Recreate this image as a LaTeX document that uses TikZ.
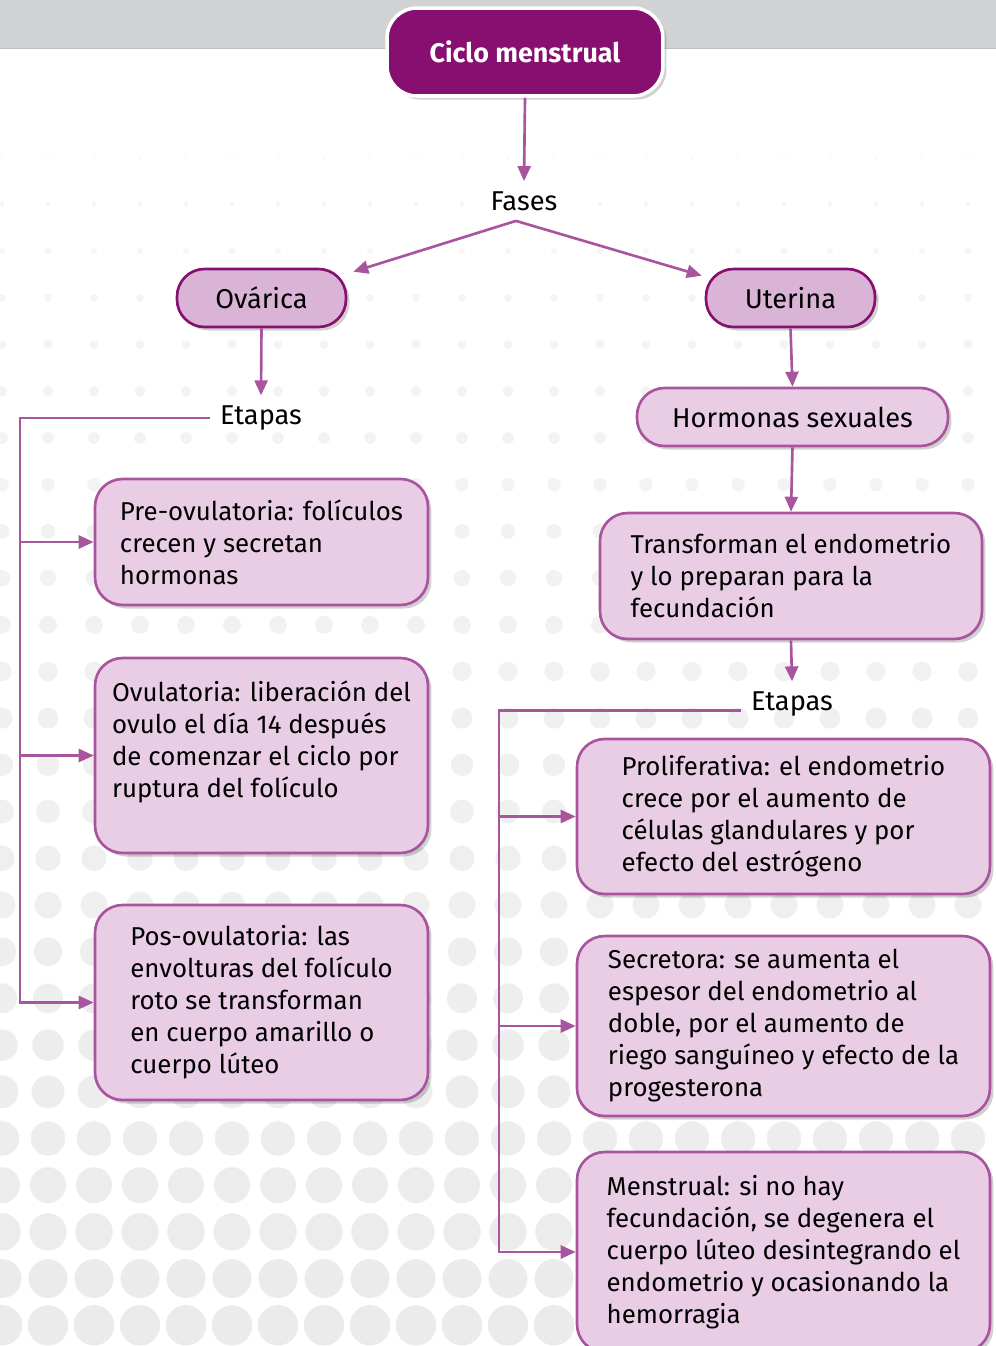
\documentclass[tikz,border=0pt]{standalone}
\usepackage{fontspec}
\setmainfont{Fira Sans}
\usetikzlibrary{arrows.meta, shadows}

\definecolor{darkpurple}{HTML}{870F6F}
\definecolor{linkpurple}{HTML}{A8559E}
\definecolor{midpink}{HTML}{DAB4D6}
\definecolor{lightpink}{HTML}{E8CDE4}
\definecolor{bandgray}{HTML}{D1D2D4}

\tikzset{
  line/.style={draw=linkpurple, line width=1.5pt},
  link/.style={line, -{Triangle[length=0.3cm, width=0.26cm]}},
  softshadow/.style={drop shadow={shadow xshift=2pt, shadow yshift=-2pt, opacity=0.18, fill=black}},
  labelfont/.style={font=\fontsize{15.5}{19}\selectfont},
  titlebox/.style={rounded corners=0.6cm, fill=darkpurple, draw=white, line width=2pt,
    text=white, font=\fontsize{15.3}{18}\selectfont\bfseries,
    minimum width=5.52cm, minimum height=1.76cm, softshadow},
  phasebox/.style={rounded corners=0.55cm, fill=midpink, draw=darkpurple, line width=1.5pt,
    minimum width=3.38cm, minimum height=1.16cm, labelfont, softshadow},
  infobox/.style={rounded corners=0.55cm, fill=lightpink, draw=linkpurple, line width=1.5pt,
    align=left, softshadow},
  leftbox/.style={infobox, minimum width=6.66cm},
  rightbox/.style={infobox, minimum width=8.26cm},
  plaintext/.style={inner sep=0.2cm, labelfont}
}

\begin{document}
\begin{tikzpicture}[x=0.02cm, y=-0.02cm, font=\fontsize{14.7}{18.2}\selectfont]
  \useasboundingbox (0,0) rectangle (996,1346);

  % dotted background
  \foreach \j in {-7,...,20}{
    \foreach \i in {0,...,21}{
      \pgfmathsetmacro{\dy}{438+46.7*\j}
      \pgfmathsetmacro{\dr}{max(0.6,6+(\dy-438)*0.016)}
      \pgfmathsetmacro{\dc}{2.5+(\dy+200)*0.0035}
      \fill[black!\dc] (2+46*\i,\dy) circle[radius=\dr];
    }
  }

  % top band
  \fill[bandgray] (0,0) rectangle (996,48);
  \draw[black!25, line width=0.5pt] (0,48) -- (996,48);

  % Nodes
  \node[titlebox] (title) at (525,52) {Ciclo menstrual};
  \node[plaintext] (fases) at (524,201) {Fases};

  \node[phasebox] (ovarica) at (261.5,298) {Ovárica};
  \node[phasebox] (uterina) at (790.5,298) {Uterina};

  \node[plaintext] (etapasL) at (261,418) {Etapas};
  \node[leftbox, minimum height=2.52cm] (preov) at (261.5,542)
    {Pre-ovulatoria: folículos\\crecen y secretan\\hormonas};
  \node[leftbox, minimum height=3.9cm] (ovul) at (261.5,755.5)
    {Ovulatoria: liberación del\\ovulo el día 14 después\\de comenzar el ciclo por\\ruptura del folículo\\\mbox{}};
  \node[leftbox, minimum height=3.9cm] (posov) at (261.5,1002.5)
    {Pos-ovulatoria: las\\envolturas del folículo\\roto se transforman\\en cuerpo amarillo o\\cuerpo lúteo};

  \node[infobox, labelfont, minimum width=6.22cm, minimum height=1.16cm] (hormonas) at (792.5,417)
    {Hormonas sexuales};
  \node[infobox, minimum width=7.64cm, minimum height=2.52cm] (transforman) at (791,576)
    {Transforman el endometrio\\y lo preparan para la\\fecundación};
  \node[plaintext] (etapasR) at (792,704) {Etapas};

  \node[rightbox, minimum height=3.1cm] (prolif) at (783.5,816.5)
    {Proliferativa: el endometrio\\crece por el aumento de\\células glandulares y por\\efecto del estrógeno};
  \node[rightbox, minimum height=3.6cm] (secret) at (783.5,1026)
    {Secretora: se aumenta el\\espesor del endometrio al\\doble, por el aumento de\\riego sanguíneo y efecto de la\\progesterona};
  \node[rightbox, minimum height=4cm] (menstr) at (783.5,1252)
    {Menstrual: si no hay\\fecundación, se degenera el\\cuerpo lúteo desintegrando el\\endometrio y ocasionando la\\hemorragia};

  % Connectors
  \draw[link] (title.south) -- (fases.north);
  \draw[link] ([xshift=-0.16cm]fases.south) -- ([xshift=0.12cm, yshift=-0.08cm]ovarica.north east);
  \draw[link] ([xshift=-0.16cm]fases.south) -- ([xshift=-0.06cm, yshift=-0.16cm]uterina.north west);

  \draw[link] (ovarica.south) -- (etapasL.north);
  \coordinate (lx) at (20,0);
  \coordinate (lspine) at (etapasL.west -| lx);
  \draw[link] (etapasL.west) -- (lspine) |- (posov.west);
  \draw[link] (lspine |- preov.west) -- (preov.west);
  \draw[link] (lspine |- ovul.west) -- (ovul.west);

  \draw[link] (uterina.south) -- (hormonas.north);
  \draw[link] (hormonas.south) -- (transforman.north);
  \draw[link] (transforman.south) -- (etapasR.north);
  \coordinate (rx) at (499,0);
  \coordinate (rspine) at (etapasR.base west -| rx);
  \draw[link] (etapasR.base west) -- (rspine) |- (menstr.west);
  \draw[link] (rspine |- prolif.west) -- (prolif.west);
  \draw[link] (rspine |- secret.west) -- (secret.west);
\end{tikzpicture}
\end{document}
